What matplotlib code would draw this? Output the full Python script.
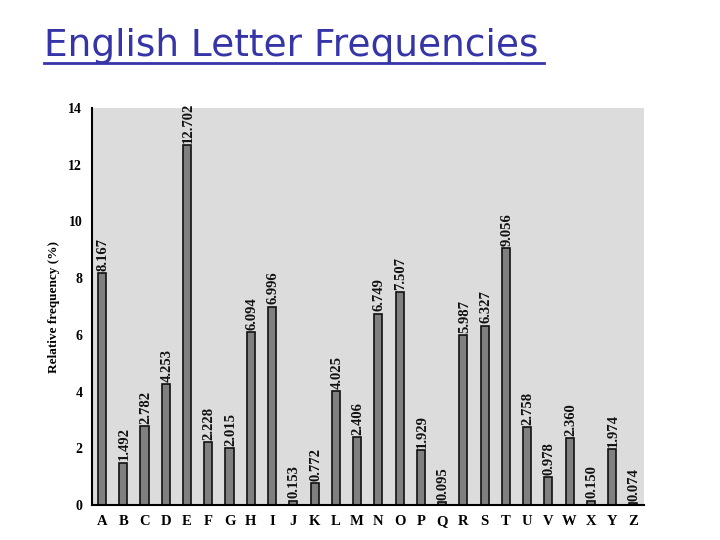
import matplotlib
matplotlib.use("Agg")

import numpy as np
import matplotlib.pyplot as plt

# Letter frequency data (percent)
letters = list("ABCDEFGHIJKLMNOPQRSTUVWXYZ")
freqs = [8.167, 1.492, 2.782, 4.253, 12.702, 2.228, 2.015, 6.094, 6.996,
         0.153, 0.772, 4.025, 2.406, 6.749, 7.507, 1.929, 0.095, 5.987,
         6.327, 9.056, 2.758, 0.978, 2.360, 0.150, 1.974, 0.074]
yticks = [0, 2, 4, 6, 8, 10, 12, 14]

serif = ["Liberation Serif", "DejaVu Serif"]

fig = plt.figure(figsize=(7.2, 5.4), dpi=100)

# Slide title
fig.text(44/720, 1 - 56/540, "English Letter Frequencies", fontsize=27,
         color="#3535a8", family="DejaVu Sans", ha="left", va="baseline")
fig.add_artist(plt.Line2D([44/720, 544/720], [1 - 63/540, 1 - 63/540],
                          color="#3535a8", linewidth=2))

ax = fig.add_axes([92/720, 1 - 505/540, 552/720, 397/540])
ax.set_facecolor("#dcdcdc")

x = np.arange(len(letters))
ax.bar(x, freqs, width=0.38, color="#808080", edgecolor="#111111", linewidth=1.2)

for xi, v in zip(x, freqs):
    ax.text(xi + 0.05, v + 0.08, f"{v:.3f}", rotation=90, ha="center", va="bottom",
            fontsize=10.5, family=serif, fontweight="bold", color="#111111")

ax.set_xlim(-0.47, 25.5)
ax.set_ylim(0, 14)
ax.set_xticks(x)
ax.set_xticklabels(letters, family=serif, fontweight="bold", fontsize=10.5)
ax.set_yticks(yticks)
ax.set_yticklabels([str(t) for t in yticks], family=serif, fontweight="bold", fontsize=10)
ax.tick_params(length=0, pad=7)
ax.set_ylabel("Relative frequency (%)", family=serif, fontweight="bold", fontsize=9.5, labelpad=6)

ax.spines["top"].set_visible(False)
ax.spines["right"].set_visible(False)
ax.spines["left"].set_linewidth(1.5)
ax.spines["bottom"].set_linewidth(1.5)

plt.savefig("out.png", dpi=100)
plt.close()
